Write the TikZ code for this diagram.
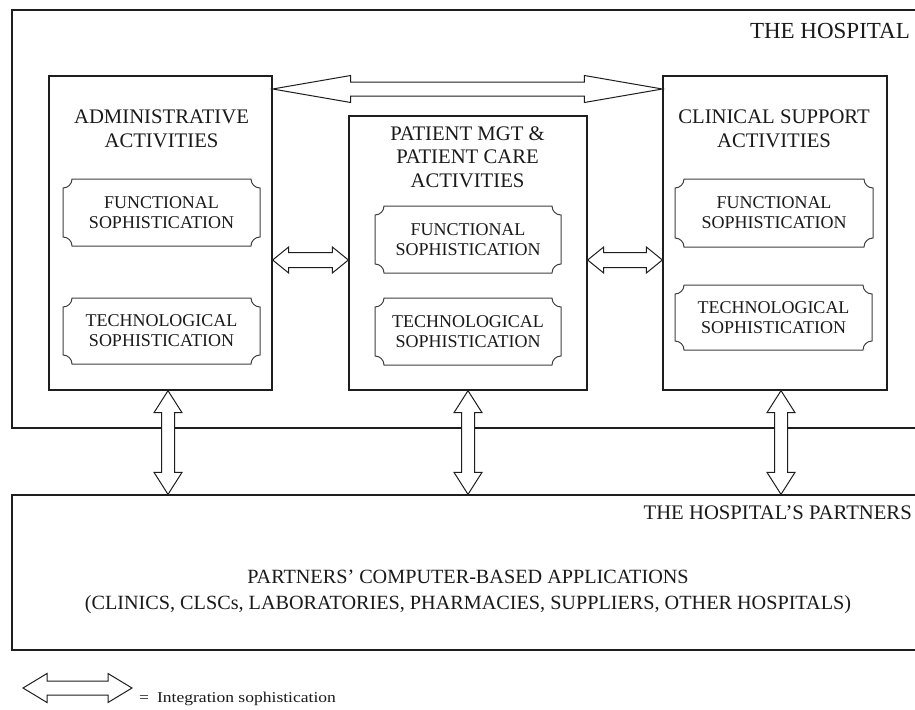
\documentclass[tikz,border=0pt]{standalone}
\usepackage{fontspec}
\setmainfont{Liberation Serif}
\usetikzlibrary{calc}
\definecolor{linecol}{HTML}{1E1E1E}
\definecolor{txtcol}{HTML}{1A1A1A}
\def\pr{9}
\tikzset{
  box/.style={draw=linecol, line width=1.3pt, rectangle, inner sep=0pt},
  plq/.style={draw=none, inner sep=0pt, align=center, font=\fontsize{18}{20}\selectfont, text=txtcol},
  plqline/.style={draw=linecol!85, line width=1pt},
  title/.style={align=center, font=\fontsize{20.7}{23.5}\selectfont, text=txtcol, inner sep=0pt},
  dblarrow/.style={draw=linecol, line width=1pt, fill=white, line join=miter},
}
\newcommand\mybox[5]{\node[box, minimum width={(#4-#2)*1pt}, minimum height={(#5-#3)*1pt}] (#1) at ({(#2+#4)/2},{(#3+#5)/2}) {};}
\newcommand\plaque[6]{%
  \node[plq, minimum width={(#4-#2)*1pt}, minimum height={(#5-#3)*1pt}] (#1) at ({(#2+#4)/2},{(#3+#5)/2}) {#6};
  \draw[plqline] ({#2+\pr},#3) -- ({#4-\pr},#3) arc[start angle=180,end angle=90,radius=\pr]
    -- (#4,{#5-\pr}) arc[start angle=270,end angle=180,radius=\pr]
    -- ({#2+\pr},#5) arc[start angle=0,end angle=-90,radius=\pr]
    -- (#2,{#3+\pr}) arc[start angle=90,end angle=0,radius=\pr] -- cycle;}
\newcommand\harrow[5]{%
  \draw[dblarrow] let \p1=(#1), \p2=(#2) in (\x1,\y1) -- (\x1+#3pt,\y1+#4pt) -- (\x1+#3pt,\y1+#5pt)
   -- (\x2-#3pt,\y1+#5pt) -- (\x2-#3pt,\y1+#4pt) -- (\x2,\y1) -- (\x2-#3pt,\y1-#4pt)
   -- (\x2-#3pt,\y1-#5pt) -- (\x1+#3pt,\y1-#5pt) -- (\x1+#3pt,\y1-#4pt) -- cycle;}
\newcommand\varrow[5]{%
  \draw[dblarrow] let \p1=(#1), \p2=(#2) in (\x1,\y1) -- (\x1+#4pt,\y1-#3pt) -- (\x1+#5pt,\y1-#3pt)
   -- (\x1+#5pt,\y2+#3pt) -- (\x1+#4pt,\y2+#3pt) -- (\x1,\y2) -- (\x1-#4pt,\y2+#3pt)
   -- (\x1-#5pt,\y2+#3pt) -- (\x1-#5pt,\y1-#3pt) -- (\x1-#4pt,\y1-#3pt) -- cycle;}
\begin{document}
\begin{tikzpicture}[x=1pt,y=-1pt]
\useasboundingbox (0,0) rectangle (915,709);
\clip (0,0) rectangle (915,709);
\fill[white] (0,0) rectangle (915,709);
% outer boxes
\mybox{hosp}{12}{10}{940}{428}
\mybox{part}{12}{495}{940}{650}
\node[title, anchor=east, font=\fontsize{23}{26}\selectfont] (hospl) at (910,31) {THE HOSPITAL};
\node[title, anchor=east] (partl) at (912,512.5) {THE HOSPITAL'S PARTNERS};
% activity boxes
\mybox{adm}{49}{76}{272}{390}
\mybox{pat}{349}{116}{587}{390}
\mybox{cli}{663}{76}{887}{390}
\node[title] (admt) at (161.5,129) {ADMINISTRATIVE\\ACTIVITIES};
\node[title] (patt) at (467.5,157) {PATIENT MGT \&\\PATIENT CARE\\ACTIVITIES};
\node[title] (clit) at (774,129) {CLINICAL SUPPORT\\ACTIVITIES};
% plaques
\plaque{admf}{63}{179}{260}{246}{FUNCTIONAL\\SOPHISTICATION}
\plaque{admt2}{63}{298}{260}{364}{TECHNOLOGICAL\\SOPHISTICATION}
\plaque{patf}{375}{206}{561}{273}{FUNCTIONAL\\SOPHISTICATION}
\plaque{patt2}{375}{298}{561}{365}{TECHNOLOGICAL\\SOPHISTICATION}
\plaque{clif}{675}{179}{873}{247}{FUNCTIONAL\\SOPHISTICATION}
\plaque{clit2}{675}{285}{872}{350}{TECHNOLOGICAL\\SOPHISTICATION}
% partners text
\node[title, font=\fontsize{20.2}{26}\selectfont] (partt) at (468,592) {PARTNERS' COMPUTER-BASED APPLICATIONS\\(CLINICS, CLSCs, LABORATORIES, PHARMACIES, SUPPLIERS, OTHER HOSPITALS)};
% integration arrows
\harrow{adm.east |- 0,89}{cli.west |- 0,89}{78}{13.5}{7}
\harrow{adm.east |- 0,260}{pat.west |- 0,260}{16}{13}{7.5}
\harrow{pat.east |- 0,260}{cli.west |- 0,260}{16}{13}{7.5}
\varrow{168,0 |- adm.south}{168,0 |- part.north}{22}{14}{6.5}
\varrow{468,0 |- pat.south}{468,0 |- part.north}{22}{14}{6.5}
\varrow{781,0 |- cli.south}{781,0 |- part.north}{22}{14}{6.5}
% legend
\coordinate (lg1) at (23,688);
\coordinate (lg2) at (132,688);
\harrow{lg1}{lg2}{24}{14.5}{7}
\node[anchor=west, inner sep=0pt, text=txtcol, font=\fontsize{15}{17}\selectfont\addfontfeature{FakeStretch=1.17}] (leg) at (139,699) {=\hspace{8pt}Integration sophistication};
\end{tikzpicture}
\end{document}
